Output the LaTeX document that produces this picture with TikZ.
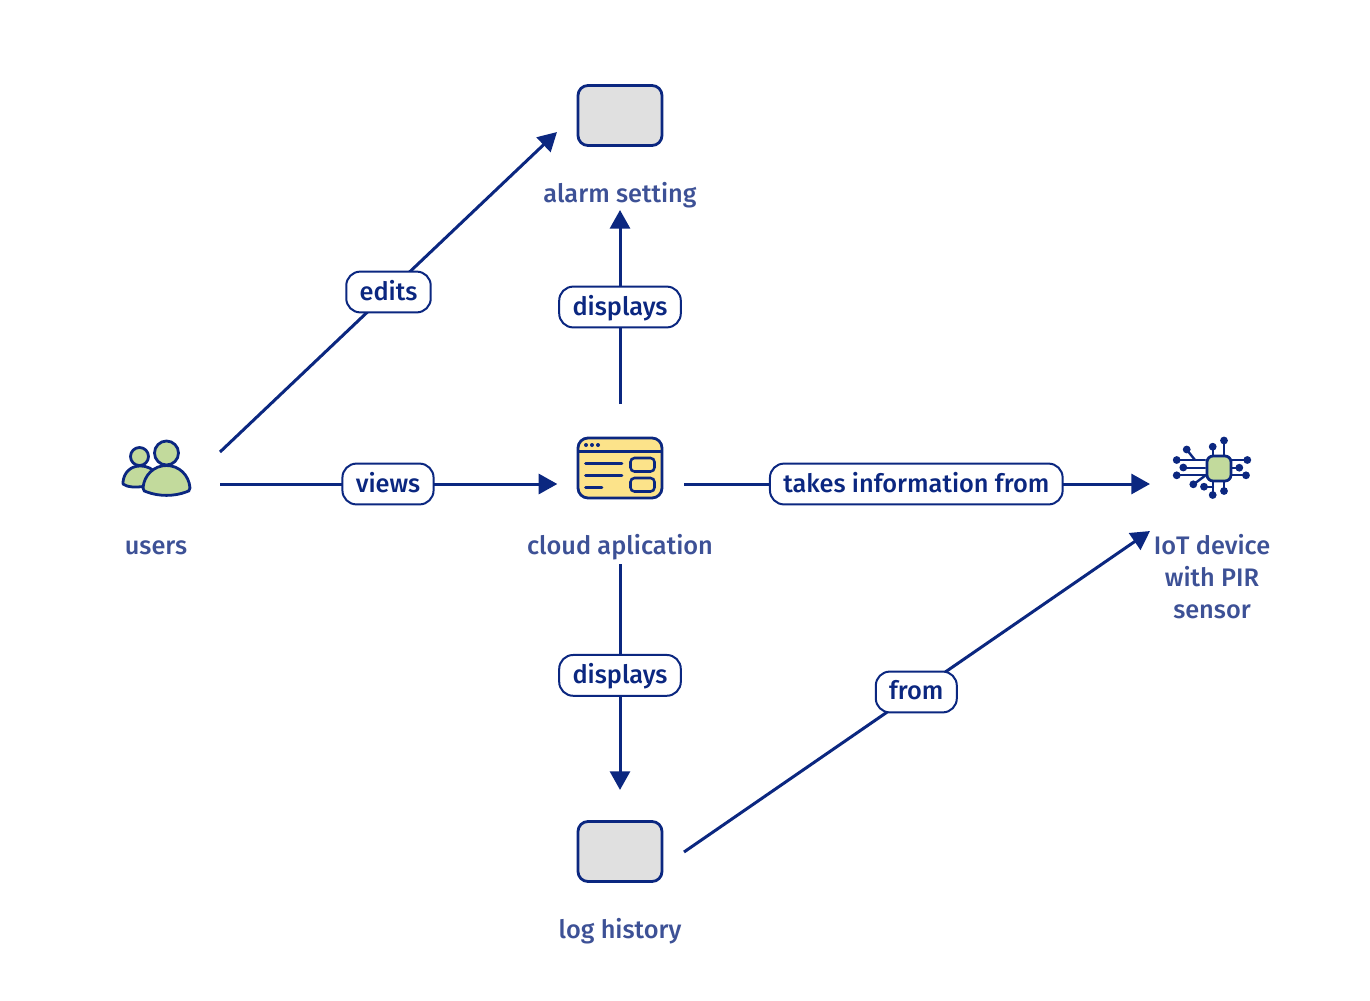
\documentclass[tikz,border=0pt]{standalone}
\usepackage{fontspec}
\setmainfont{Fira Sans}[UprightFont=* Medium]
\usetikzlibrary{arrows.meta}
\definecolor{navy}{HTML}{0B2780}
\definecolor{captxt}{HTML}{3D5196}
\definecolor{greyfill}{HTML}{E0E0E0}
\definecolor{greenfill}{HTML}{C2DA9C}
\definecolor{yellowfill}{HTML}{FCE38A}
\tikzset{
  x=0.75pt,y=-0.75pt,
  frame/.style={minimum width=#1,inner sep=0pt,outer sep=0pt},
  flow/.style={draw=navy,line width=2.25pt,-{Triangle[length=14pt,width=15pt]}},
  lab/.style={draw=navy,fill=white,line width=1.5pt,rounded corners=10.5pt,font=\fontsize{19}{23}\selectfont,text=navy,inner xsep=10pt,text height=15pt,text depth=3pt,minimum height=30.6pt,inner ysep=0pt,anchor=center},
  captext/.style={font=\fontsize{19}{24}\selectfont,text=captxt,align=center,inner sep=0pt,anchor=base},
  icon/.style={draw=navy,line width=2.1pt,line join=round},
  thin icon/.style={draw=navy,line width=1.9pt,line cap=round},
  dot/.style={fill=navy,draw=none},
}
\begin{document}
\begin{tikzpicture}
\useasboundingbox (0,0) rectangle (1370,1000);
\fill[white] (0,0) rectangle (1370,1000);

% invisible frames that carry the connector ends
\node[frame=96pt,minimum height=48pt] (users) at (156,484) {};
\node[frame=96pt,minimum height=120pt] (cloud) at (620,484) {};
\node[frame=94.5pt,minimum height=117pt] (alarm) at (620,132) {};
\node[frame=96pt,minimum height=94.5pt] (log) at (620,852) {};
\node[frame=93pt,minimum height=70.5pt] (iot) at (1212,484) {};
\coordinate (iotin) at (1150,531);

% grey boxes
\draw[icon,fill=greyfill,rounded corners=7.5pt] (578,85.5) rectangle (662,145.5);
\draw[icon,fill=greyfill,rounded corners=7.5pt] (578,821.5) rectangle (662,881.5);

% users icon
\draw[icon,fill=greenfill] (139.5,456.5) circle (9);
\draw[icon,fill=greenfill] (123,482) .. controls (124,472) and (131,466) .. (140,466) .. controls (148,466) and (153,469) .. (156,474) -- (146,486) .. controls (135,488) and (127,487) .. (123,484) .. controls (122.5,483.5) and (122.5,483) .. (123,482) -- cycle;
\draw[icon,fill=greenfill] (166.5,453) circle (12);
\draw[icon,fill=greenfill] (143,488) .. controls (144,475) and (154,465.5) .. (166.5,465.5) .. controls (179,465.5) and (189,475) .. (190,488) .. controls (190,491) and (188,491.5) .. (186,492) .. controls (174,496.5) and (159,496.5) .. (147,492) .. controls (145,491.5) and (143,491) .. (143,488) -- cycle;

% cloud application icon
\draw[icon,fill=yellowfill,rounded corners=7.5pt] (578,438) rectangle (662,498);
\draw[thin icon,line cap=butt] (578,451.7) -- (662,451.7);
\foreach \x in {586,592,598} \fill[dot] (\x,445) circle (2);
\draw[thin icon] (585.5,463.5) -- (622,463.5);
\draw[thin icon] (585.5,475.5) -- (622,475.5);
\draw[thin icon] (585.5,487.5) -- (602,487.5);
\draw[thin icon,rounded corners=3pt] (630.5,458) rectangle (654.5,471.5);
\draw[thin icon,rounded corners=3pt] (630.5,478) rectangle (654.5,491.5);

% chip icon
\begin{scope}[thin icon,line width=1.8pt]
\draw (1205,460) -- (1177,460);
\draw (1205,468) -- (1184,468);
\draw (1205,475) -- (1177,475);
\draw (1195,460) -- (1187,450);
\draw (1206,475) -- (1194,484);
\draw (1213,482) -- (1213,494);
\draw (1204,487) -- (1213,487);
\draw (1224,482) -- (1224,491);
\draw (1213,455) -- (1213,447);
\draw (1224,455) -- (1224,441);
\draw (1232,460) -- (1247,460);
\draw (1232,468) -- (1240,468);
\draw (1232,475) -- (1246,475);
\end{scope}
\foreach \p in {(1176.7,460),(1183.3,467.5),(1176.7,475.3),(1186.7,449.5),(1193.3,484.3),(1204,486.7),(1212.7,495),(1224,491),(1212.7,446.7),(1224,440.5),(1247.3,460),(1239.3,467.7),(1246,475.3)}
  \fill[dot] \p circle (3.9);
\draw[icon,fill=greenfill,rounded corners=4.5pt] (1207,456) rectangle (1231,481);

% captions
\node[captext] (alarmcap) at (620,202) {alarm setting};
\node[captext] (userscap) at (156,554) {users};
\node[captext] (cloudcap) at (620,554) {cloud aplication};
\node[captext,anchor=center] (iotcap) at (1212,577) {IoT device\\with PIR\\sensor};
\node[captext] (logcap) at (620,938) {log history};

% connectors
\draw[flow] (users.north east) -- node[lab] (l1) {edits} (alarm.west);
\draw[flow,shorten >=-1pt] (users.east) -- node[lab] (l2) {views} (cloud.west);
\draw[flow] (cloud.north) -- node[lab] (l3) {displays} (alarm.south);
\draw[flow] (cloud.east) -- node[lab,pos=0.4985] (l4) {takes information from} (iot.west);
\draw[flow,shorten >=-0.7pt] (cloud.south) -- node[lab,pos=0.495] (l5) {displays} (log.north);
\draw[flow] (log.east) -- node[lab,pos=0.4985] (l6) {from} (iotin);
\end{tikzpicture}
\end{document}
